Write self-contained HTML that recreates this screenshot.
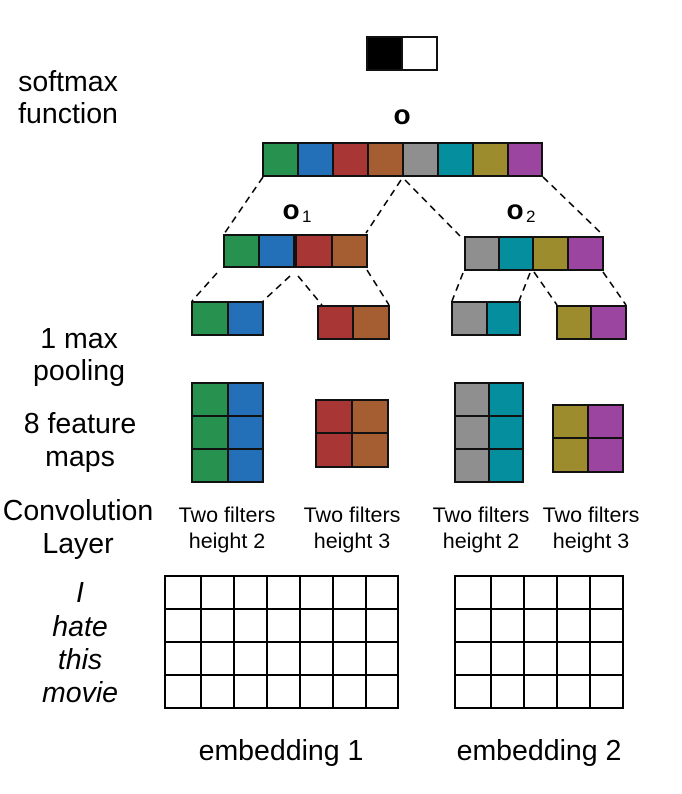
<!DOCTYPE html>
<html><head><meta charset="utf-8"><style>
html,body{margin:0;padding:0;background:#fff;}
svg{display:block;}
text{font-family:"Liberation Sans",sans-serif;fill:#000;}
</style></head><body>
<svg width="682" height="794" viewBox="0 0 682 794" xmlns="http://www.w3.org/2000/svg">
<g font-size="28.5" text-anchor="middle">
<text x="68" y="91">softmax</text>
<text x="68" y="123">function</text>
<text x="79" y="348">1 max</text>
<text x="79" y="380">pooling</text>
<text x="80" y="433">8 feature</text>
<text x="80" y="466">maps</text>
<text x="78" y="520">Convolution</text>
<text x="78" y="553">Layer</text>
<g font-style="italic">
<text x="80" y="602">I</text>
<text x="80" y="636">hate</text>
<text x="80" y="669">this</text>
<text x="80" y="702">movie</text>
</g>
<text x="281" y="760">embedding 1</text>
<text x="539" y="760">embedding 2</text>
</g>
<g font-size="21.5" text-anchor="middle">
<text x="227" y="522">Two filters</text><text x="227" y="548">height 2</text>
<text x="352" y="522">Two filters</text><text x="352" y="548">height 3</text>
<text x="481" y="522">Two filters</text><text x="481" y="548">height 2</text>
<text x="591" y="522">Two filters</text><text x="591" y="548">height 3</text>
</g>
<g font-weight="bold" font-size="28" text-anchor="middle">
<text x="402" y="124">o</text>
<text x="291" y="219">o</text>
<text x="515" y="219">o</text>
</g>
<text x="302" y="222" font-size="17">1</text>
<text x="526" y="222" font-size="17">2</text>

<g stroke="#111" stroke-width="2">
<rect x="367" y="37" width="35" height="33" fill="#000"/>
<rect x="402" y="37" width="35" height="33" fill="#fff"/>
<rect x="263" y="143" width="35" height="33" fill="#27914f"/>
<rect x="298" y="143" width="35" height="33" fill="#2370b8"/>
<rect x="333" y="143" width="35" height="33" fill="#a83634"/>
<rect x="368" y="143" width="35" height="33" fill="#a55e32"/>
<rect x="403" y="143" width="35" height="33" fill="#8f8f8f"/>
<rect x="438" y="143" width="35" height="33" fill="#058e9e"/>
<rect x="473" y="143" width="35" height="33" fill="#9d8c2e"/>
<rect x="508" y="143" width="34" height="33" fill="#9b44a0"/>
<rect x="224" y="235" width="35" height="32" fill="#27914f"/>
<rect x="259" y="235" width="35" height="32" fill="#2370b8"/>
<rect x="296" y="235" width="36" height="32" fill="#a83634"/>
<rect x="332" y="235" width="35" height="32" fill="#a55e32"/>
<rect x="465" y="237" width="34" height="33" fill="#8f8f8f"/>
<rect x="499" y="237" width="34" height="33" fill="#058e9e"/>
<rect x="533" y="237" width="35" height="33" fill="#9d8c2e"/>
<rect x="568" y="237" width="35" height="33" fill="#9b44a0"/>
<rect x="192" y="302" width="36" height="33" fill="#27914f"/>
<rect x="228" y="302" width="35" height="33" fill="#2370b8"/>
<rect x="318" y="306" width="35" height="33" fill="#a83634"/>
<rect x="353" y="306" width="36" height="33" fill="#a55e32"/>
<rect x="452" y="302" width="35" height="33" fill="#8f8f8f"/>
<rect x="487" y="302" width="33" height="33" fill="#058e9e"/>
<rect x="557" y="306" width="34" height="33" fill="#9d8c2e"/>
<rect x="591" y="306" width="35" height="33" fill="#9b44a0"/>
<g fill="#27914f"><rect x="192" y="383" width="36" height="33"/><rect x="192" y="416" width="36" height="33"/><rect x="192" y="449" width="36" height="33"/></g>
<g fill="#2370b8"><rect x="228" y="383" width="35" height="33"/><rect x="228" y="416" width="35" height="33"/><rect x="228" y="449" width="35" height="33"/></g>
<g fill="#a83634"><rect x="316" y="400" width="36" height="33"/><rect x="316" y="433" width="36" height="34"/></g>
<g fill="#a55e32"><rect x="352" y="400" width="36" height="33"/><rect x="352" y="433" width="36" height="34"/></g>
<g fill="#8f8f8f"><rect x="455" y="383" width="34" height="33"/><rect x="455" y="416" width="34" height="33"/><rect x="455" y="449" width="34" height="33"/></g>
<g fill="#058e9e"><rect x="489" y="383" width="34" height="33"/><rect x="489" y="416" width="34" height="33"/><rect x="489" y="449" width="34" height="33"/></g>
<g fill="#9d8c2e"><rect x="553" y="405" width="35" height="33"/><rect x="553" y="438" width="35" height="34"/></g>
<g fill="#9b44a0"><rect x="588" y="405" width="35" height="33"/><rect x="588" y="438" width="35" height="34"/></g>
</g>

<g stroke="#000" stroke-width="2" fill="none">
<rect x="165" y="576" width="233" height="132"/>
<path d="M201 576V708M234 576V708M267 576V708M300 576V708M333 576V708M366 576V708M165 609H398M165 642H398M165 675H398"/>
<rect x="455" y="576" width="168" height="132"/>
<path d="M491 576V708M524 576V708M557 576V708M590 576V708M455 609H623M455 642H623M455 675H623"/>
</g>

<g stroke="#000" stroke-width="1.6" stroke-dasharray="7,5" fill="none">
<path d="M263 177L224 234"/>
<path d="M401 180L366 233"/>
<path d="M405 180L460 236"/>
<path d="M543 177L603 235"/>
<path d="M217 273L192 301"/>
<path d="M290 276L263 301"/>
<path d="M298 276L322 305"/>
<path d="M367 270L389 305"/>
<path d="M463 273L452 301"/>
<path d="M530 273L519 301"/>
<path d="M534 272L557 305"/>
<path d="M603 272L626 305"/>
</g>
</svg>
</body></html>
